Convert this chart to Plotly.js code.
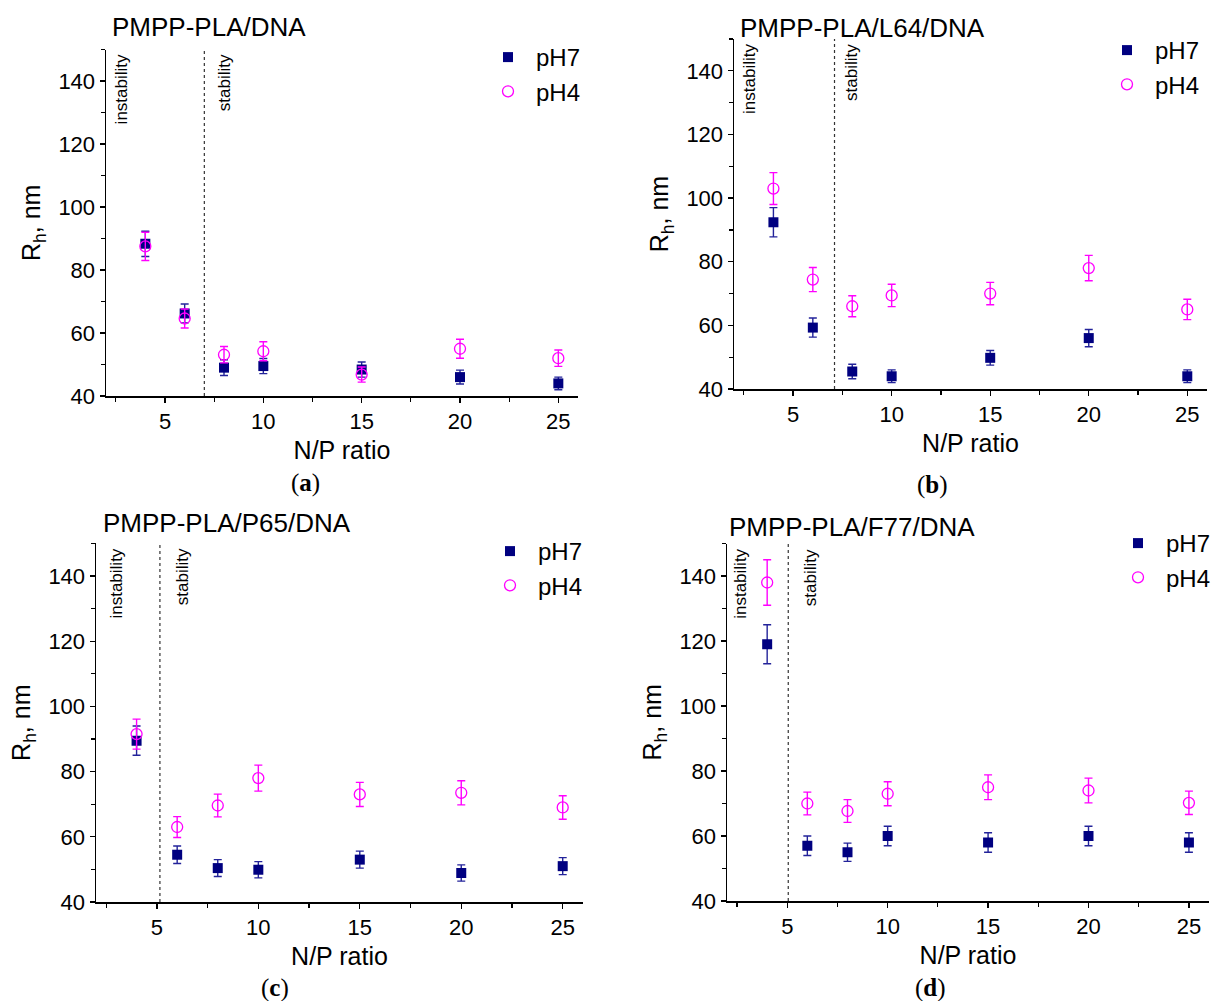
<!DOCTYPE html>
<html>
<head>
<meta charset="utf-8">
<script src="https://cdn.plot.ly/plotly-3.0.1.min.js"></script>
<style>html,body{margin:0;padding:0;background:#fff}#chart{width:1226px;height:1001px}</style>
</head>
<body>
<div id="chart"></div>
<script>
// ---- data ----
const npRatio = [4, 6, 8, 10, 15, 20, 25];
const seriesNames = ["pH7", "pH4"];
const panelTitles = ["PMPP-PLA/DNA", "PMPP-PLA/L64/DNA", "PMPP-PLA/P65/DNA", "PMPP-PLA/F77/DNA"];
const panelLetters = ["a", "b", "c", "d"];

const a_pH7 = [88.3, 66.2, 49.0, 49.5, 48.4, 46.0, 44.0];
const a_pH7_err = [4.0, 3.0, 2.5, 2.4, 2.4, 2.2, 2.0];
const a_pH4 = [87.5, 64.6, 53.1, 54.2, 46.8, 55.0, 52.0];
const a_pH4_err = [4.5, 3.0, 2.6, 3.0, 2.4, 3.0, 2.6];

const b_pH7 = [92.4, 59.3, 45.5, 44.0, 49.8, 56.0, 44.0];
const b_pH7_err = [4.6, 3.0, 2.3, 2.0, 2.3, 2.7, 2.0];
const b_pH4 = [103.0, 74.4, 66.0, 69.4, 70.0, 78.0, 65.0];
const b_pH4_err = [5.0, 3.8, 3.3, 3.5, 3.5, 4.0, 3.2];

const c_pH7 = [89.5, 54.5, 50.4, 49.9, 53.0, 48.9, 51.0];
const c_pH7_err = [4.5, 2.7, 2.6, 2.5, 2.6, 2.5, 2.6];
const c_pH4 = [91.5, 63.0, 69.6, 78.0, 73.0, 73.5, 69.0];
const c_pH4_err = [4.6, 3.2, 3.5, 4.0, 3.7, 3.7, 3.6];

const d_pH7 = [119.0, 57.0, 55.0, 60.0, 58.0, 60.0, 58.0];
const d_pH7_err = [6.0, 3.0, 2.8, 3.0, 3.0, 3.0, 3.0];
const d_pH4 = [138.0, 70.0, 67.7, 73.0, 75.0, 74.0, 70.2];
const d_pH4_err = [7.0, 3.5, 3.5, 3.7, 3.8, 3.8, 3.6];

const boundary = [7.0, 7.1, 5.15, 5.05];   // N/P ratio of the dashed stability boundary

// ---- layout helpers ----
const W = 1226, H = 1001;
const fx = v => v / W;
const fy = v => 1 - v / H;
const FONT = "Liberation Sans, Arial, sans-serif";
const NAVY = "#000080", MAG = "#FF00FF";

// plot-area pixel boxes [left, right, top, bottom]
const boxes = [
  [106, 578, 49.5, 396],
  [734, 1207, 39, 389],
  [96, 583, 543.4, 902],
  [727, 1209, 543.5, 901]
];
const titlePos = [[110, 27], [738, 28], [101, 523], [727, 527]];
const letterPos = [[305, 483], [932, 485], [275, 988], [930, 988]];
const legendPos = [[480, 35], [1099, 28], [482, 529], [1110, 521]];
const instabX = [2.8, 2.75, 3.03, 2.7];
const stabX = [8.0, 7.95, 6.24, 6.13];

const panels = [
  [a_pH7, a_pH7_err, a_pH4, a_pH4_err],
  [b_pH7, b_pH7_err, b_pH4, b_pH4_err],
  [c_pH7, c_pH7_err, c_pH4, c_pH4_err],
  [d_pH7, d_pH7_err, d_pH4, d_pH4_err]
];

const data = [];
const layout = {
  width: W, height: H,
  margin: {l: 0, r: 0, t: 0, b: 0, pad: 0},
  paper_bgcolor: "#fff", plot_bgcolor: "rgba(0,0,0,0)",
  font: {family: FONT, color: "#000"},
  showlegend: true,
  annotations: [], shapes: []
};

panels.forEach((p, i) => {
  const n = i + 1;
  const xa = "x" + (n === 1 ? "" : n), ya = "y" + (n === 1 ? "" : n);
  const xk = "xaxis" + (n === 1 ? "" : n), yk = "yaxis" + (n === 1 ? "" : n);
  const lg = "legend" + (n === 1 ? "" : n);
  const b = boxes[i];

  data.push({
    type: "scatter", mode: "markers", name: seriesNames[0],
    x: npRatio, y: p[0], xaxis: xa, yaxis: ya, legend: lg,
    marker: {symbol: "square", size: 10, color: NAVY, line: {width: 0}},
    error_y: {type: "data", array: p[1], visible: true, color: "#23239a", thickness: 1.4, width: 4}
  });
  data.push({
    type: "scatter", mode: "markers", name: seriesNames[1],
    x: npRatio, y: p[2], xaxis: xa, yaxis: ya, legend: lg,
    marker: {symbol: "circle-open", size: 11, color: MAG, line: {width: 1.3, color: MAG}},
    error_y: {type: "data", array: p[3], visible: true, color: MAG, thickness: 1.4, width: 4}
  });

  layout[xk] = {
    domain: [fx(b[0]), fx(b[1])], anchor: ya,
    range: [2, 26], tickmode: "linear", tick0: 5, dtick: 5,
    showgrid: false, zeroline: false, showline: true, linecolor: "#000", linewidth: 1.5,
    ticks: "outside", ticklen: 5, tickwidth: 1.3, tickcolor: "#000",
    minor: {dtick: 2.5, tick0: 0, ticks: "outside", ticklen: 4, tickwidth: 1.2, tickcolor: "#000", showgrid: false},
    tickfont: {size: 22, family: FONT, color: "#000"},
    title: {text: "N/P ratio", font: {size: 25, family: FONT, color: "#000"}, standoff: 8},
    fixedrange: true
  };
  layout[yk] = {
    domain: [fy(b[3]), fy(b[2])], anchor: xa,
    range: [40, 150], tickmode: "linear", tick0: 40, dtick: 20,
    showgrid: false, zeroline: false, showline: true, linecolor: "#000", linewidth: 1.5,
    ticks: "outside", ticklen: 5, tickwidth: 1.3, tickcolor: "#000",
    minor: {dtick: 10, tick0: 0, ticks: "outside", ticklen: 4, tickwidth: 1.2, tickcolor: "#000", showgrid: false},
    tickfont: {size: 22, family: FONT, color: "#000"},
    title: {text: "R<sub>h</sub>, nm", font: {size: 25, family: FONT, color: "#000"}, standoff: 10},
    fixedrange: true
  };
  layout[lg] = {
    x: fx(legendPos[i][0]), y: fy(legendPos[i][1]), xanchor: "left", yanchor: "top",
    xref: "paper", yref: "paper",
    bgcolor: "rgba(0,0,0,0)", borderwidth: 0,
    font: {size: 24, family: FONT, color: "#000"},
    itemwidth: 46, tracegroupgap: 0
  };

  layout.shapes.push({
    type: "line", xref: xa, yref: ya + " domain",
    x0: boundary[i], x1: boundary[i], y0: 0, y1: 1,
    line: {color: "#333", width: 1.2, dash: "dot"}
  });

  layout.annotations.push({
    text: panelTitles[i], xref: "paper", yref: "paper",
    x: fx(titlePos[i][0]), y: fy(titlePos[i][1]), xanchor: "left", yanchor: "middle",
    showarrow: false, font: {size: 26, family: FONT, color: "#000"}
  });
  layout.annotations.push({
    text: "(<b>" + panelLetters[i] + "</b>)", xref: "paper", yref: "paper",
    x: fx(letterPos[i][0]), y: fy(letterPos[i][1]), xanchor: "center", yanchor: "middle",
    showarrow: false, font: {size: 25, family: "Liberation Serif, Times New Roman, serif", color: "#000"}
  });
  layout.annotations.push({
    text: "instability", xref: xa, yref: ya,
    x: instabX[i], y: 149, xanchor: "center", yanchor: "top", textangle: -90,
    showarrow: false, font: {size: 17, family: FONT, color: "#000"}
  });
  layout.annotations.push({
    text: "stability", xref: xa, yref: ya,
    x: stabX[i], y: 149, xanchor: "center", yanchor: "top", textangle: -90,
    showarrow: false, font: {size: 17, family: FONT, color: "#000"}
  });
});

Plotly.newPlot("chart", data, layout, {staticPlot: true, displayModeBar: false});
</script>
</body>
</html>
